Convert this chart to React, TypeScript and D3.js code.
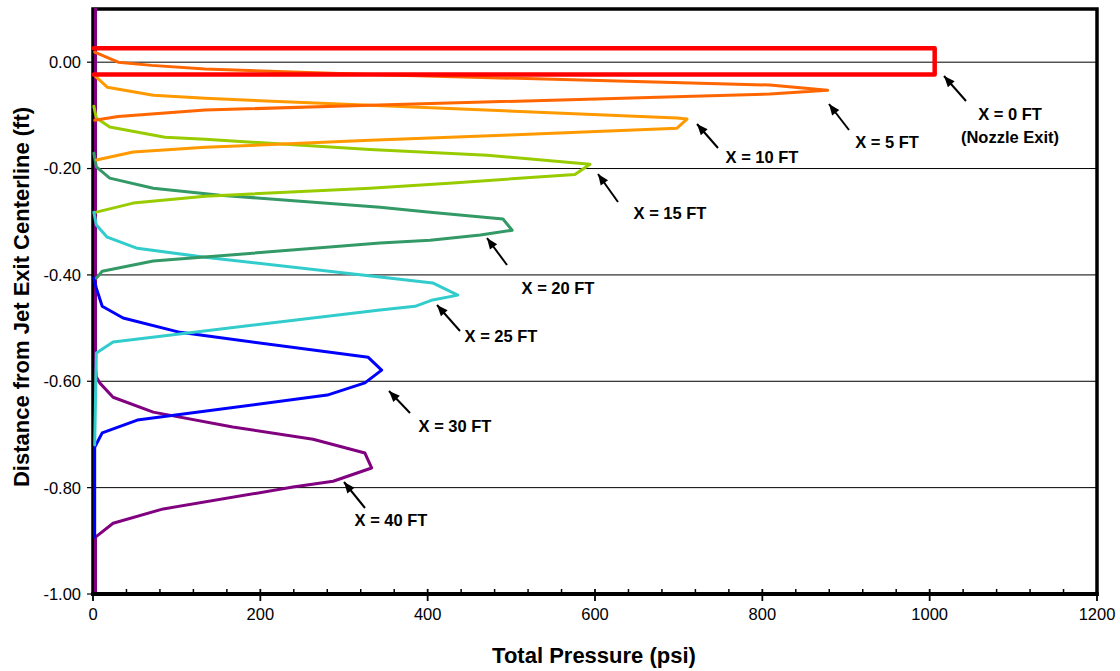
import React from "react";
import * as d3 from "d3";

// ---- Data (Total Pressure psi, Distance ft) ----
const seriesNames = ["X = 0 FT", "X = 5 FT", "X = 10 FT", "X = 15 FT", "X = 20 FT", "X = 25 FT", "X = 30 FT", "X = 40 FT"];
const seriesColors = ["#FF0000", "#FF6600", "#FF9900", "#99CC00", "#339966", "#33CCCC", "#0000FF", "#800080"];

const x0: [number, number][] = [[1, 0.026], [1006, 0.026], [1006, -0.023], [1, -0.023]];
const x5: [number, number][] = [[2, 0.019], [30, 0.0], [70, -0.006], [134, -0.013], [331, -0.023], [809, -0.043], [878, -0.053], [809, -0.060], [331, -0.081], [134, -0.090], [30, -0.102], [2, -0.109]];
const x10: [number, number][] = [[1, -0.024], [4, -0.028], [17, -0.047], [72, -0.062], [134, -0.068], [331, -0.081], [698, -0.105], [710, -0.107], [698, -0.124], [498, -0.137], [331, -0.147], [134, -0.160], [48, -0.169], [4, -0.184]];
const x15: [number, number][] = [[1, -0.083], [4, -0.105], [20, -0.122], [86, -0.141], [134, -0.145], [331, -0.164], [471, -0.175], [594, -0.192], [576, -0.211], [430, -0.227], [331, -0.237], [134, -0.252], [48, -0.265], [4, -0.282]];
const x20: [number, number][] = [[1, -0.171], [4, -0.197], [20, -0.218], [72, -0.237], [152, -0.250], [343, -0.273], [403, -0.282], [490, -0.295], [501, -0.316], [463, -0.325], [403, -0.335], [343, -0.340], [72, -0.374], [11, -0.393], [4, -0.406]];
const x25: [number, number][] = [[1, -0.282], [4, -0.306], [17, -0.329], [53, -0.350], [134, -0.367], [343, -0.404], [406, -0.415], [436, -0.438], [406, -0.447], [385, -0.459], [343, -0.466], [24, -0.526], [4, -0.547], [2, -0.720]];
const x30: [number, number][] = [[1, -0.406], [4, -0.425], [11, -0.459], [36, -0.481], [104, -0.508], [329, -0.555], [345, -0.579], [325, -0.603], [280, -0.626], [53, -0.673], [11, -0.697], [2, -0.724], [2, -0.893]];
const x40: [number, number][] = [[3, 0.1], [3, -0.575], [4, -0.592], [8, -0.603], [24, -0.630], [72, -0.658], [167, -0.686], [263, -0.709], [325, -0.735], [333, -0.763], [287, -0.788], [239, -0.799], [84, -0.840], [24, -0.867], [3, -0.893], [3, -1.0]];
const seriesData = [x0, x5, x10, x15, x20, x25, x30, x40];

const xTicks = [0, 200, 400, 600, 800, 1000, 1200];
const xMinorStep = 40;
const yTicks = [0, -0.2, -0.4, -0.6, -0.8, -1.0];
const xTitle = "Total Pressure (psi)";
const yTitle = "Distance from Jet Exit Centerline (ft)";

// annotation labels (text lines) with layout in pixels
const annotations = [
  { lines: ["X = 0 FT", "(Nozzle Exit)"], tx: 1010, ty: 114, ax: 966, ay: 101, hx: 944, hy: 76 },
  { lines: ["X = 5 FT"], tx: 887, ty: 142, ax: 849, ay: 130, hx: 829, hy: 104 },
  { lines: ["X = 10 FT"], tx: 762, ty: 157, ax: 718, ay: 148, hx: 697, hy: 124 },
  { lines: ["X = 15 FT"], tx: 670, ty: 213, ax: 618, ay: 202, hx: 598, hy: 174 },
  { lines: ["X = 20 FT"], tx: 558, ty: 288, ax: 507, ay: 265, hx: 487, hy: 238 },
  { lines: ["X = 25 FT"], tx: 501, ty: 336, ax: 460, ay: 331, hx: 437, hy: 305 },
  { lines: ["X = 30 FT"], tx: 455, ty: 426, ax: 410, ay: 413, hx: 389, hy: 391 },
  { lines: ["X = 40 FT"], tx: 391, ty: 520, ax: 365, ay: 508, hx: 344, hy: 482 },
];

const W = 1120, H = 671;
const L = 93, R = 1097, T = 9, B = 594;
const FONT = "'Liberation Sans', Arial, Helvetica, sans-serif";

function fmtY(v: number) {
  return Math.abs(v) < 1e-9 ? "0.00" : v.toFixed(2);
}

function arrowHead(ax: number, ay: number, hx: number, hy: number) {
  const dx = hx - ax, dy = hy - ay;
  const len = Math.sqrt(dx * dx + dy * dy);
  const ux = dx / len, uy = dy / len;
  const hl = 11, hw = 4.5;
  const bx = hx - ux * hl, by = hy - uy * hl;
  const px = -uy, py = ux;
  return `${hx},${hy} ${bx + px * hw},${by + py * hw} ${bx - px * hw},${by - py * hw}`;
}

export default function App() {
  const x = d3.scaleLinear().domain([0, 1200]).range([L, R]);
  const y = d3.scaleLinear().domain([-1, 0.1]).range([B, T]);
  const line = d3.line<[number, number]>().x(d => x(d[0])).y(d => y(d[1]));
  const minor = d3.range(0, 1200 + 1e-9, xMinorStep).filter(v => v % 200 !== 0);

  const order = [7, 6, 5, 4, 3, 2, 1, 0];

  return (
    <svg width={W} height={H} style={{ position: "absolute", left: 0, top: 0, display: "block", background: "#fff" }} fontFamily={FONT}>
      <rect x={0} y={0} width={W} height={H} fill="#fff" />
      {/* gridlines */}
      {yTicks.filter(v => v > -1).map(v => (
        <line key={"g" + v} x1={L} x2={R} y1={y(v)} y2={y(v)} stroke="#000" strokeWidth={1} />
      ))}
      {/* frame */}
      <rect x={L} y={T} width={R - L} height={B - T} fill="none" stroke="#000" strokeWidth={3.5} />
      {/* series */}
      {order.map(i => (
        <path key={seriesNames[i]} d={line(seriesData[i]) || ""} fill="none" stroke={seriesColors[i]}
          strokeWidth={i === 0 ? 4.5 : 3} strokeLinejoin="round" strokeLinecap="round" />
      ))}
      {/* y ticks */}
      {yTicks.map(v => (
        <g key={"yt" + v}>
          <line x1={L - 6} x2={L} y1={y(v)} y2={y(v)} stroke="#000" strokeWidth={1.2} />
          <text x={81} y={y(v)} dy="0.36em" textAnchor="end" fontSize={16.5} fill="#000">{fmtY(v)}</text>
        </g>
      ))}
      {/* bottom axis line redrawn on top */}
      <line x1={L - 1.75} x2={R + 1.75} y1={B} y2={B} stroke="#000" strokeWidth={4} />
      {/* x ticks */}
      {minor.map(v => (
        <line key={"xm" + v} x1={x(v)} x2={x(v)} y1={B - 5} y2={B} stroke="#000" strokeWidth={1.5} />
      ))}
      {xTicks.map(v => (
        <g key={"xt" + v}>
          <line x1={x(v)} x2={x(v)} y1={B - 5} y2={B + 7} stroke="#000" strokeWidth={1.8} />
          <text x={x(v)} y={620} textAnchor="middle" fontSize={16.5} fill="#000">{v}</text>
        </g>
      ))}
      {/* axis titles */}
      <text x={594} y={663} textAnchor="middle" fontSize={22} fontWeight="bold" fill="#000">{xTitle}</text>
      <text transform={`translate(29,297) rotate(-90)`} textAnchor="middle" fontSize={22} fontWeight="bold" fill="#000">{yTitle}</text>
      {/* annotations */}
      {annotations.map((a, i) => (
        <g key={"an" + i}>
          <line x1={a.ax} y1={a.ay} x2={a.hx} y2={a.hy} stroke="#000" strokeWidth={2} />
          <polygon points={arrowHead(a.ax, a.ay, a.hx, a.hy)} fill="#000" />
          {a.lines.map((t, j) => (
            <text key={j} x={a.tx} y={a.ty + j * 23} dy="0.36em" textAnchor="middle" fontSize={16.5} fontWeight="bold" fill="#000">{t}</text>
          ))}
        </g>
      ))}
    </svg>
  );
}
